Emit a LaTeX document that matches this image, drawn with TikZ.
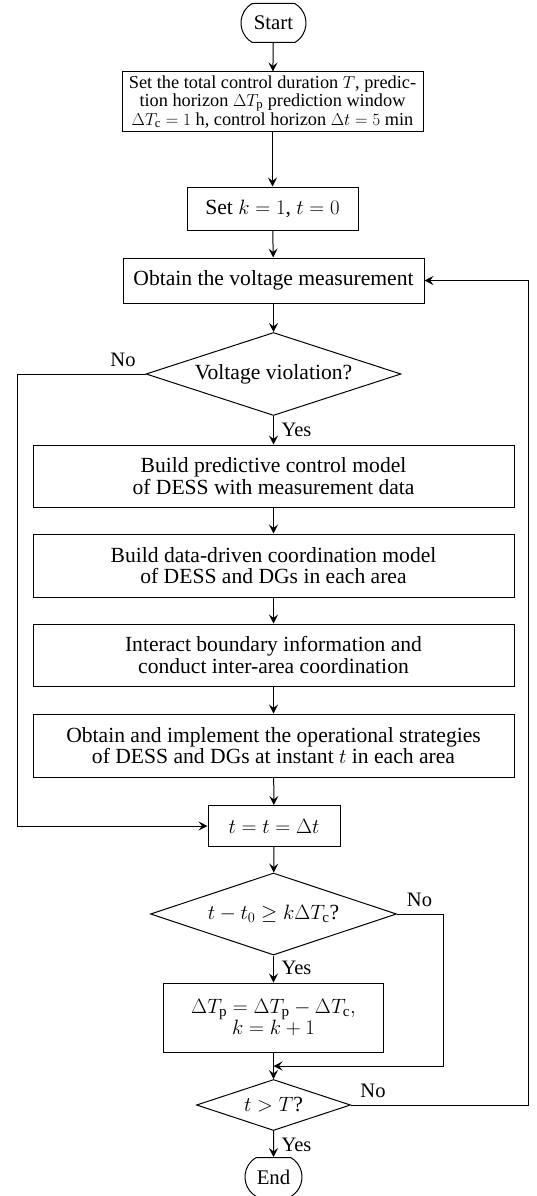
\documentclass[tikz,border=0pt]{standalone}
\usepackage{fontspec}
\setmainfont{Liberation Serif}
\usetikzlibrary{arrows.meta,shapes.geometric,shapes.misc,calc}
\begin{document}
\begin{tikzpicture}[x=1pt,y=-1pt,line width=1pt,
  box/.style={draw,rectangle,align=center,inner sep=2pt,font=\fontsize{21.6}{21.5}\selectfont},
  term/.style={draw,rounded rectangle,rounded rectangle arc length=120,minimum height=39pt,inner xsep=2pt,font=\fontsize{20.8}{21}\selectfont},
  dec/.style={draw,diamond,shape aspect=3.05,inner sep=0pt,align=center,font=\fontsize{21.6}{21.5}\selectfont},
  arr/.style={-{Stealth[length=9pt,width=9pt,inset=3.5pt]}},
  lab/.style={inner sep=0pt,font=\fontsize{20.5}{21}\selectfont}]
\useasboundingbox (0,0) rectangle (537,1196);

\node[term,minimum width=69pt] (start) at (273.5,23) {Start};
\node[box,minimum width=301pt,minimum height=60pt,font=\fontsize{18.3}{17.5}\selectfont] (b1) at (272.5,102)
  {Set the total control duration $T$, predic-\\tion horizon $\Delta T_\mathrm{p}$ prediction window\\$\Delta T_\mathrm{c}=1$ h, control horizon $\Delta t=5$ min};
\node[box,minimum width=171pt,minimum height=43pt] (b2) at (272.5,208.5) {Set $k=1$, $t=0$};
\node[box,minimum width=301pt,minimum height=45pt] (b3) at (273.5,280.5) {Obtain the voltage measurement};
\node[dec,minimum width=255pt,minimum height=83pt] (d1) at (273.5,374) {Voltage violation?};
\node[box,minimum width=481pt,minimum height=62pt] (b4) at (273.5,476) {Build predictive control model\\of DESS with measurement data};
\node[box,minimum width=481pt,minimum height=63pt] (b5) at (273.5,565.5) {Build data-driven coordination model\\of DESS and DGs in each area};
\node[box,minimum width=481pt,minimum height=62pt] (b6) at (273.5,655) {Interact boundary information and\\conduct inter-area coordination};
\node[box,minimum width=481pt,minimum height=63pt] (b7) at (273.5,745.5) {Obtain and implement the operational strategies\\of DESS and DGs at instant $t$ in each area};
\node[box,minimum width=132pt,minimum height=41pt] (tb) at (274,826) {$t=t=\Delta t$};
\node[dec,minimum width=246pt,minimum height=82pt] (d2) at (273.5,914) {$t-t_0\geq k\Delta T_\mathrm{c}$?};
\node[box,minimum width=220pt,minimum height=69pt,font=\fontsize{21.6}{18}\selectfont] (b8) at (273.5,1017.5) {$\Delta T_\mathrm{p}=\Delta T_\mathrm{p}-\Delta T_\mathrm{c},$\\$k=k+1$};
\node[dec,minimum width=154pt,minimum height=51pt] (d3) at (273.5,1105) {$t>T$?};
\node[term,minimum width=61pt] (end) at (273.5,1177) {End};

\coordinate (L) at (17,0);
\coordinate (R) at (528,0);
\coordinate (R2) at (443,0);
\coordinate (J) at (273.5,1066);

\draw[arr] (start) -- (b1);
\draw[arr] (b1) -- (b2);
\draw[arr] (b2) -- (b3);
\draw[arr] (b3) -- (d1);
\draw[arr] (d1) -- (b4);
\draw[arr] (b4) -- (b5);
\draw[arr] (b5) -- (b6);
\draw[arr] (b6) -- (b7);
\draw[arr] (b7) -- (tb);
\draw[arr] (tb) -- (d2);
\draw[arr] (d2) -- (b8);
\draw[arr] (b8) -- (d3);
\draw[arr] (d3) -- (end);

\draw[arr] (d1.west) -- (L |- d1.west) -- (L |- tb.west) -- (tb.west);
\draw[arr] (d2.east) -- (R2 |- d2.east) -- (R2 |- J) -- (J);
\draw[arr] (d3.east) -- (R |- d3.east) -- (R |- b3.east) -- (b3.east);

\node[lab] (no1) at (123,360) {No};
\node[lab] (no2) at (419.5,900) {No};
\node[lab] (no3) at (373,1091) {No};
\node[lab,anchor=west] (yes1) at (281,430) {Yes};
\node[lab,anchor=west] (yes2) at (281,968) {Yes};
\node[lab,anchor=west] (yes3) at (281,1145) {Yes};
\end{tikzpicture}
\end{document}
